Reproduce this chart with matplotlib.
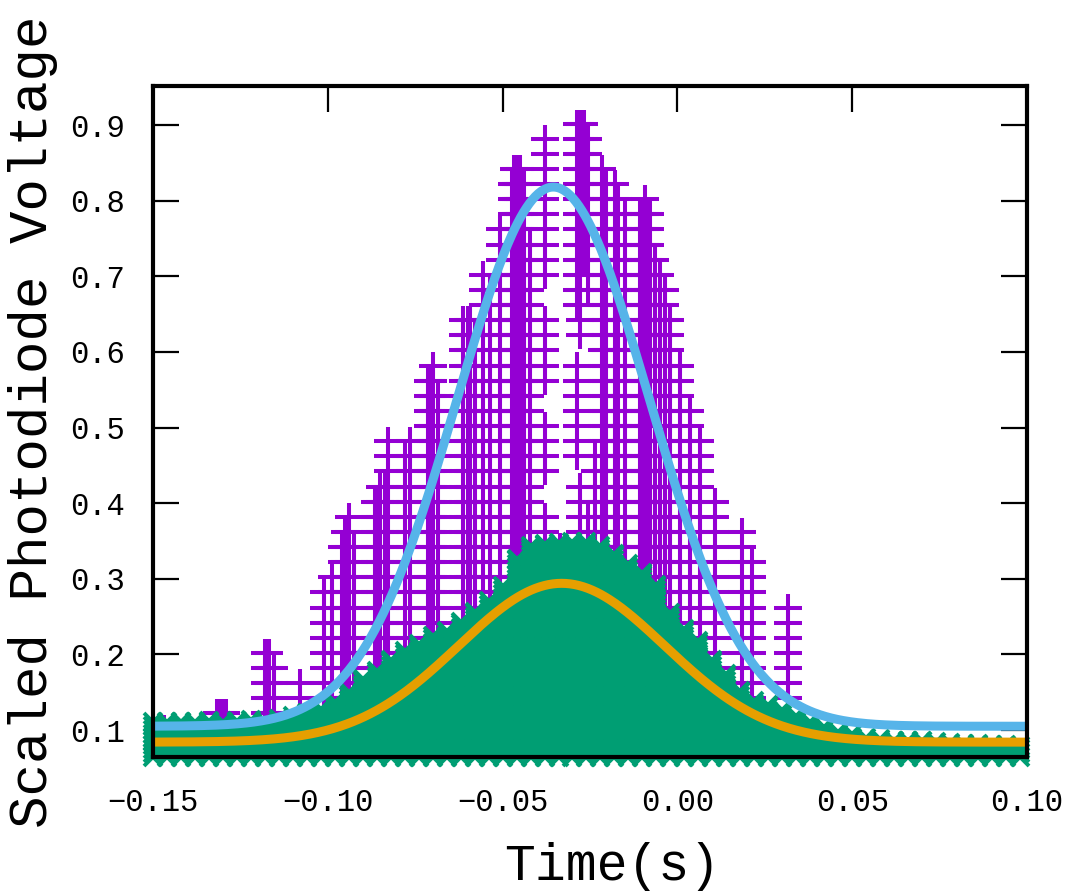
"""
Photodiode pulse: two channels (+ / x markers) with Gaussian fits.
"""
import numpy as np
import matplotlib
matplotlib.use("Agg")
import matplotlib.pyplot as plt

FONT = ["Liberation Mono", "DejaVu Sans Mono"]
plt.rcParams["font.family"] = FONT
plt.rcParams["axes.unicode_minus"] = True

# purple channel: stacked samples, one span per time column (volts, 0.02 V steps)
p_x = [-0.1469, -0.1317, -0.1308, -0.1300, -0.1291, -0.1180, -0.1168, -0.1155,
       -0.1080, -0.1010, -0.0988, -0.0958, -0.0951, -0.0940, -0.0925, -0.0865,
       -0.0858, -0.0851, -0.0836, -0.0828, -0.0780, -0.0765, -0.0713, -0.0706,
       -0.0699, -0.0685, -0.0613, -0.0600, -0.0593, -0.0579, -0.0556, -0.0536,
       -0.0507, -0.0473, -0.0468, -0.0462, -0.0456, -0.0450, -0.0439, -0.0422,
       -0.0379, -0.0379, -0.0379, -0.0379, -0.0336, -0.0287, -0.0279, -0.0267,
       -0.0256, -0.0287, -0.0279, -0.0256, -0.0236, -0.0216, -0.0210, -0.0204,
       -0.0178, -0.0174, -0.0170, -0.0150, -0.0107, -0.0100, -0.0093, -0.0085,
       -0.0078, -0.0064, -0.0050, -0.0035, -0.0021, 0.0007, 0.0036, 0.0065,
       0.0108, 0.0185, 0.0213, 0.0316]
p_lo = [0.082, 0.082, 0.082, 0.082, 0.082, 0.082, 0.082, 0.082,
        0.082, 0.082, 0.082, 0.082, 0.082, 0.082, 0.082, 0.082,
        0.082, 0.082, 0.082, 0.082, 0.082, 0.082, 0.082, 0.082,
        0.082, 0.082, 0.082, 0.082, 0.082, 0.082, 0.082, 0.082,
        0.082, 0.082, 0.082, 0.082, 0.082, 0.082, 0.082, 0.082,
        0.702, 0.562, 0.442, 0.082, 0.082, 0.662, 0.622, 0.722,
        0.682, 0.462, 0.082, 0.082, 0.082, 0.082, 0.082, 0.082,
        0.082, 0.082, 0.082, 0.082, 0.082, 0.082, 0.082, 0.082,
        0.082, 0.082, 0.082, 0.082, 0.082, 0.082, 0.082, 0.082,
        0.082, 0.082, 0.082, 0.142]
p_hi = [0.102, 0.122, 0.122, 0.122, 0.122, 0.202, 0.202, 0.182,
        0.162, 0.282, 0.302, 0.342, 0.362, 0.382, 0.342, 0.402,
        0.402, 0.422, 0.422, 0.482, 0.462, 0.482, 0.562, 0.562,
        0.582, 0.542, 0.642, 0.642, 0.642, 0.622, 0.702, 0.682,
        0.762, 0.822, 0.842, 0.842, 0.822, 0.842, 0.822, 0.742,
        0.882, 0.642, 0.502, 0.382, 0.342, 0.902, 0.902, 0.902,
        0.882, 0.582, 0.422, 0.382, 0.462, 0.842, 0.802, 0.822,
        0.822, 0.782, 0.802, 0.782, 0.782, 0.782, 0.802, 0.782,
        0.782, 0.722, 0.702, 0.682, 0.642, 0.582, 0.522, 0.482,
        0.402, 0.362, 0.322, 0.262]

# green channel: top of each time column (column runs down to 0.065 V)
g_x = [-0.150, -0.146, -0.142, -0.138, -0.134, -0.130, -0.126, -0.122, -0.118,
       -0.114, -0.110, -0.106, -0.102, -0.098, -0.094, -0.090, -0.086, -0.082,
       -0.078, -0.074, -0.070, -0.066, -0.062, -0.058, -0.054, -0.050, -0.046,
       -0.042, -0.038, -0.034, -0.030, -0.026, -0.022, -0.018, -0.014, -0.010,
       -0.006, -0.002, 0.002, 0.006, 0.010, 0.014, 0.018, 0.022, 0.026, 0.030,
       0.034, 0.038, 0.042, 0.046, 0.050, 0.054, 0.058, 0.062, 0.066, 0.070,
       0.074, 0.078, 0.082, 0.086, 0.090, 0.094, 0.098]
g_top = [0.110, 0.110, 0.111, 0.110, 0.112, 0.110, 0.112, 0.113, 0.112,
         0.114, 0.118, 0.122, 0.128, 0.137, 0.150, 0.168, 0.178, 0.192,
         0.204, 0.214, 0.224, 0.231, 0.243, 0.256, 0.270, 0.290, 0.326,
         0.343, 0.346, 0.347, 0.349, 0.348, 0.344, 0.333, 0.320, 0.308,
         0.292, 0.255, 0.234, 0.218, 0.193, 0.174, 0.152, 0.138, 0.133,
         0.126, 0.118, 0.110, 0.104, 0.098, 0.095, 0.090, 0.088, 0.086,
         0.085, 0.085, 0.084, 0.083, 0.082, 0.081, 0.080, 0.080, 0.079]
g_floor = 0.065

# Gaussian fit parameters: offset, amplitude, centre, sigma
fit_purple = [0.105, 0.713, -0.0355, 0.0275]
fit_green = [0.084, 0.210, -0.0331, 0.0295]

x_ticks = [-0.15, -0.10, -0.05, 0.00, 0.05, 0.10]
y_ticks = [0.1, 0.2, 0.3, 0.4, 0.5, 0.6, 0.7, 0.8, 0.9]

PURPLE = "#9400D3"
GREEN = "#009E73"
BLUE = "#56B4E9"
ORANGE = "#E69F00"


def expand_purple():
    xs, ys = [], []
    for x, lo, hi in zip(p_x, p_lo, p_hi):
        lv = np.arange(lo, hi + 1e-6, 0.02)
        xs.extend([x] * len(lv))
        ys.extend(lv)
    return np.array(xs), np.array(ys)


def expand_green():
    xs, ys = [], []
    for x, top in zip(g_x, g_top):
        lv = list(np.arange(g_floor, top, 0.005)) + [top]
        xs.extend([x] * len(lv))
        ys.extend(lv)
    return np.array(xs), np.array(ys)


def gauss(t, p):
    off, amp, mu, sig = p
    return off + amp * np.exp(-0.5 * ((t - mu) / sig) ** 2)


fig = plt.figure(figsize=(10.66, 8.94), dpi=100)
ax = fig.add_axes([0.1435, 0.1532, 0.8199, 0.7506])

px, py = expand_purple()
ax.plot(px, py, ls="none", marker="+", ms=20, mew=2.9, color=PURPLE, zorder=2)
gx, gy = expand_green()
ax.plot(gx, gy, ls="none", marker="x", ms=13, mew=2.8, color=GREEN,
        zorder=3, clip_on=False)

t = np.linspace(-0.15, 0.10, 600)
ax.plot(t, gauss(t, fit_purple), color=BLUE, lw=6.5, zorder=4)
ax.plot(t, gauss(t, fit_green), color=ORANGE, lw=6.5, zorder=5)

ax.set_xlim(-0.15, 0.10)
ax.set_ylim(0.0643, 0.9516)
ax.set_xticks(x_ticks)
ax.set_xticklabels([f"{v:.2f}".replace("-", "\u2212") for v in x_ticks])
ax.set_yticks(y_ticks)
ax.set_yticklabels([f"{v:.1f}" for v in y_ticks])
ax.tick_params(direction="in", length=19, width=1.6, top=True, right=True,
               labelsize=22, color="black")
ax.tick_params(axis="y", pad=20)
ax.tick_params(axis="x", pad=22)
for s in ax.spines.values():
    s.set_linewidth(3)
    s.set_zorder(10)

fig.text(0.031, 0.528, "Scaled Photodiode Voltage", rotation=90,
         ha="center", va="center", fontsize=39)
fig.text(0.574, 0.016, "Time(s)", ha="center", va="baseline", fontsize=37)

fig.savefig("out.png", dpi=100)
